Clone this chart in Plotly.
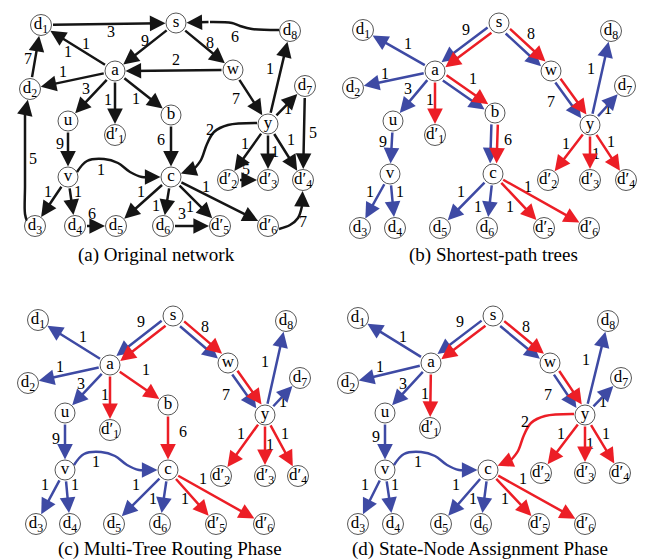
import numpy as np
import plotly.graph_objects as go

FONT = "Liberation Serif, Times New Roman, serif"
BLACK = "#151515"
BLUE = "#3E4AA4"
RED = "#EC1E26"

NODE_TEXT = {
    's': 's', 'a': 'a', 'b': 'b', 'c': 'c', 'u': 'u', 'v': 'v', 'w': 'w', 'y': 'y',
    'd1': 'd<sub>1</sub>', 'd2': 'd<sub>2</sub>', 'd3': 'd<sub>3</sub>', 'd4': 'd<sub>4</sub>',
    'd5': 'd<sub>5</sub>', 'd6': 'd<sub>6</sub>', 'd7': 'd<sub>7</sub>', 'd8': 'd<sub>8</sub>',
    'd1p': 'd′<sub>1</sub>', 'd2p': 'd′<sub>2</sub>', 'd3p': 'd′<sub>3</sub>',
    'd4p': 'd′<sub>4</sub>', 'd5p': 'd′<sub>5</sub>', 'd6p': 'd′<sub>6</sub>',
}

# ---------------- node layouts (pixel positions) ----------------
POS_A = {'d1': (33, 17), 's': (168, 15), 'd8': (282, 23), 'a': (107, 63), 'w': (225, 62),
         'd2': (22, 81), 'd7': (297, 78), 'u': (60, 113), 'b': (163, 107), 'd1p': (107, 127),
         'y': (260, 116), 'v': (60, 169), 'c': (163, 169), 'd2p': (220, 172), 'd3p': (260, 172),
         'd4p': (295, 172), 'd3': (27, 218), 'd4': (67, 218), 'd5': (108, 218), 'd6': (155, 218),
         'd5p': (212, 218), 'd6p': (260, 218)}
POS_B = {'d1': (355, 22), 's': (491, 15), 'd8': (603, 23), 'a': (427, 63), 'w': (543, 63),
         'd2': (345, 80), 'd7': (617, 78), 'u': (385, 113), 'b': (487, 105), 'd1p': (427, 127),
         'y': (582, 117), 'v': (382, 166), 'c': (485, 166), 'd2p': (540, 172), 'd3p': (582, 172),
         'd4p': (618, 172), 'd3': (352, 220), 'd4': (387, 220), 'd5': (432, 220), 'd6': (479, 220),
         'd5p': (536, 220), 'd6p': (581, 220)}
POS_C = {'d1': (30, 312), 's': (165, 308), 'd8': (278, 313), 'a': (102, 357), 'w': (220, 355),
         'd2': (20, 375), 'd7': (292, 370), 'u': (57, 405), 'b': (160, 397), 'd1p': (102, 422),
         'y': (257, 407), 'v': (57, 462), 'c': (160, 462), 'd2p': (213, 468), 'd3p': (257, 468),
         'd4p': (290, 468), 'd3': (28, 516), 'd4': (62, 516), 'd5': (106, 516), 'd6': (152, 516),
         'd5p': (208, 516), 'd6p': (256, 516)}
POS_D = {'d1': (350, 310), 's': (485, 308), 'd8': (600, 313), 'a': (423, 355), 'w': (542, 355),
         'd2': (340, 375), 'd7': (613, 370), 'u': (377, 405), 'd1p': (422, 420),
         'y': (577, 407), 'v': (377, 462), 'c': (480, 462), 'd2p': (533, 465), 'd3p': (577, 465),
         'd4p': (612, 465), 'd3': (350, 516), 'd4': (385, 516), 'd5': (433, 516), 'd6': (473, 516),
         'd5p': (531, 516), 'd6p': (577, 516)}

# ---------------- edges: (source, target, weight) ----------------
EDGES_A = [('d1', 's', 3), ('s', 'a', 9), ('s', 'w', 8), ('w', 'a', 2), ('a', 'd1', 1),
           ('a', 'd2', 1), ('d2', 'd1', 7), ('a', 'u', 3), ('a', 'd1p', 1), ('a', 'b', 1),
           ('w', 'y', 7), ('y', 'd8', 1), ('y', 'd7', 1), ('d7', 'd4p', 5), ('u', 'v', 9),
           ('b', 'c', 6), ('v', 'd3', 1), ('v', 'd4', 1), ('d4', 'd5', 6), ('c', 'd5', 1),
           ('c', 'd6', 1), ('c', 'd5p', 1), ('c', 'd6p', 1), ('d6', 'd5p', 3), ('y', 'd2p', 1),
           ('y', 'd3p', 1), ('y', 'd4p', 1), ('d2p', 'd3p', 5)]
CURVES_A = [('d8', 's', 6), ('d3', 'd2', 5), ('v', 'c', 1), ('y', 'c', 2), ('d6p', 'd4p', 7)]

BLUE_B = [('s', 'a', 9), ('s', 'w', 8), ('a', 'd1', 1), ('a', 'd2', 1), ('a', 'u', 3),
          ('a', 'b', 1), ('b', 'c', 6), ('w', 'y', 7), ('y', 'd8', 1), ('y', 'd7', 1),
          ('u', 'v', 9), ('v', 'd3', 1), ('v', 'd4', 1), ('c', 'd5', 1), ('c', 'd6', 1)]
RED_B = [('s', 'a', None), ('s', 'w', None), ('a', 'd1p', 1), ('a', 'b', None), ('b', 'c', None),
         ('w', 'y', None), ('y', 'd2p', 1), ('y', 'd3p', 1), ('y', 'd4p', 1), ('c', 'd5p', 1),
         ('c', 'd6p', 1)]

BLUE_C = [('s', 'a', 9), ('s', 'w', 8), ('a', 'd1', 1), ('a', 'd2', 1), ('a', 'u', 3),
          ('w', 'y', 7), ('y', 'd8', 1), ('y', 'd7', 1), ('u', 'v', 9), ('v', 'd3', 1),
          ('v', 'd4', 1), ('c', 'd5', 1), ('c', 'd6', 1)]
RED_C = [('s', 'a', None), ('s', 'w', None), ('a', 'd1p', 1), ('a', 'b', 1), ('b', 'c', 6),
         ('w', 'y', None), ('y', 'd2p', 1), ('y', 'd3p', 1), ('y', 'd4p', 1), ('c', 'd5p', 1),
         ('c', 'd6p', 1)]
BLUE_CURVES_C = [('v', 'c', 1)]
RED_CURVES_C = []

BLUE_D = [('s', 'a', 9), ('s', 'w', 8), ('a', 'd1', 1), ('a', 'd2', 1), ('a', 'u', 3),
          ('w', 'y', 7), ('y', 'd8', 1), ('y', 'd7', 1), ('u', 'v', 9), ('v', 'd3', 1),
          ('v', 'd4', 1), ('c', 'd5', 1), ('c', 'd6', 1)]
RED_D = [('s', 'a', None), ('s', 'w', None), ('a', 'd1p', 1), ('w', 'y', None),
         ('y', 'd2p', 1), ('y', 'd3p', 1), ('y', 'd4p', 1), ('c', 'd5p', 1), ('c', 'd6p', 1)]
BLUE_CURVES_D = [('v', 'c', 1)]
RED_CURVES_D = [('y', 'c', 2)]

CAPTIONS = ["(a) Original network", "(b) Shortest-path trees",
            "(c) Multi-Tree Routing Phase", "(d) State-Node Assignment Phase"]

# ---------------- styling / geometry helpers ----------------
CURVE_SHAPES = {  # waypoints as offsets from the source node
    ('d8', 's'): [(-11, -1), (-38, -2), (-50, -5), (-58, -8), (-80, -9)],
    ('d3', 'd2'): [(-8, -5), (-10, -12), (-10, -40), (-10, -90), (-10, -112)],
    ('v', 'c'): [(9, -5), (19, -16), (36, -18), (50, -14), (62, -5), (74, 0), (84, 0)],
    ('y', 'c'): [(-11, -1), (-40, 1), (-54, 8), (-61, 20), (-67, 36), (-74, 45)],
    ('d6p', 'd4p'): [(11, 3), (22, -1), (30, -8), (34, -20)],
}

LBL_A = {('d1', 's'): (103, 25), ('s', 'a'): (137, 34), ('s', 'w'): (202, 36), ('w', 'a'): (168, 53),
         ('a', 'd1'): (60, 45), ('a', 'd2'): (55, 65), ('d2', 'd1'): (20, 52), ('a', 'u'): (78, 82),
         ('a', 'd1p'): (100, 93), ('a', 'b'): (128, 92), ('w', 'y'): (228, 92), ('y', 'd8'): (262, 62),
         ('y', 'd7'): (280, 102), ('d7', 'd4p'): (305, 126), ('u', 'v'): (52, 137), ('b', 'c'): (153, 133),
         ('d3', 'd2'): (25, 152), ('v', 'c'): (93, 163), ('v', 'd3'): (40, 185), ('v', 'd4'): (70, 185),
         ('c', 'd5'): (133, 185), ('c', 'd6'): (148, 199), ('d4', 'd5'): (84, 207),
         ('d6', 'd5p'): (174, 207), ('c', 'd5p'): (182, 200), ('c', 'd6p'): (198, 180),
         ('y', 'c'): (202, 123), ('y', 'd2p'): (237, 137), ('y', 'd3p'): (267, 145),
         ('y', 'd4p'): (283, 133), ('d2p', 'd3p'): (238, 163), ('d6p', 'd4p'): (295, 215),
         ('d8', 's'): (227, 30)}
EXTRA_A = [((78, 37), 1)]
LBL_B = {('s', 'a'): (458, 23), ('s', 'w'): (523, 27), ('a', 'd1'): (400, 37), ('a', 'd2'): (377, 67),
         ('a', 'u'): (400, 82), ('a', 'd1p'): (422, 93), ('a', 'b'): (465, 72), ('w', 'y'): (543, 95),
         ('y', 'd8'): (583, 62), ('y', 'd7'): (600, 102), ('u', 'v'): (375, 135), ('b', 'c'): (500, 133),
         ('y', 'd2p'): (558, 137), ('y', 'd3p'): (588, 147), ('y', 'd4p'): (603, 135),
         ('v', 'd3'): (362, 185), ('v', 'd4'): (392, 185), ('c', 'd5'): (453, 185),
         ('c', 'd6'): (470, 200), ('c', 'd5p'): (502, 200), ('c', 'd6p'): (520, 180)}
LBL_C = {('s', 'a'): (133, 315), ('s', 'w'): (197, 320), ('a', 'd1'): (75, 330), ('a', 'd2'): (52, 360),
         ('a', 'u'): (73, 377), ('a', 'd1p'): (97, 388), ('a', 'b'): (138, 363), ('b', 'c'): (175, 425),
         ('w', 'y'): (218, 388), ('y', 'd8'): (257, 355), ('y', 'd7'): (275, 395), ('u', 'v'): (48, 432),
         ('v', 'c'): (88, 455), ('y', 'd2p'): (233, 427), ('y', 'd3p'): (262, 438),
         ('y', 'd4p'): (277, 427), ('v', 'd3'): (37, 478), ('v', 'd4'): (67, 478),
         ('c', 'd5'): (128, 478), ('c', 'd6'): (145, 492), ('c', 'd5p'): (177, 492),
         ('c', 'd6p'): (195, 472)}
LBL_D = {('s', 'a'): (452, 315), ('s', 'w'): (518, 320), ('a', 'd1'): (395, 330), ('a', 'd2'): (372, 360),
         ('a', 'u'): (395, 377), ('a', 'd1p'): (417, 387), ('w', 'y'): (540, 388), ('y', 'd8'): (578, 353),
         ('y', 'd7'): (595, 395), ('y', 'c'): (517, 415), ('u', 'v'): (368, 430), ('v', 'c'): (410, 455),
         ('y', 'd2p'): (553, 427), ('y', 'd3p'): (582, 437), ('y', 'd4p'): (598, 427),
         ('v', 'd3'): (357, 478), ('v', 'd4'): (387, 478), ('c', 'd5'): (448, 478),
         ('c', 'd6'): (465, 492), ('c', 'd5p'): (497, 492), ('c', 'd6p'): (515, 472)}
CAPTION_XY = [(148, 247), (485, 247), (162, 541), (472, 541)]

LW = 2.5
PAIR_OFF = 3.2

fig = go.Figure()
annotations = []


def radius(n):
    return 10.5 if n.startswith('d') else 10.0


def arrow(p, q, color, rs, rq):
    annotations.append(dict(x=q[0], y=q[1], ax=p[0], ay=p[1], xref='x', yref='y',
                            axref='x', ayref='y', showarrow=True, arrowhead=2, arrowsize=1.25,
                            arrowwidth=LW, arrowcolor=color, standoff=rq, startstandoff=rs,
                            text=''))


def straight(pos, src, dst, color, off=0.0):
    p = np.array(pos[src], float)
    q = np.array(pos[dst], float)
    d = q - p
    n = np.array([-d[1], d[0]]) / np.hypot(*d)
    p2, q2 = p + off * n, q + off * n
    arrow(tuple(p2), tuple(q2), color, radius(src), radius(dst) + 0.5)


def curve(pos, src, dst, color):
    sx, sy = pos[src]
    pts = [(sx + dx, sy + dy) for dx, dy in CURVE_SHAPES[(src, dst)]]
    fig.add_trace(go.Scatter(x=[p[0] for p in pts], y=[p[1] for p in pts], mode='lines',
                             line=dict(color=color, width=LW, shape='spline', smoothing=1.0),
                             hoverinfo='skip', showlegend=False))
    arrow(pts[-1], pos[dst], color, 0, radius(dst) + 0.5)


def nodes(pos):
    names = list(pos.keys())
    fig.add_trace(go.Scatter(
        x=[pos[n][0] for n in names], y=[pos[n][1] for n in names],
        mode='markers+text', text=[NODE_TEXT[n] for n in names], textposition='middle center',
        textfont=dict(family=FONT, size=17, color='black'),
        marker=dict(size=[2 * radius(n) for n in names], color='white',
                    line=dict(color='#111', width=1)),
        hoverinfo='skip', showlegend=False))


def labels(lbl, weights, extra=()):
    xs, ys, ts = [], [], []
    for key, w in weights.items():
        if w is None or key not in lbl:
            continue
        xs.append(lbl[key][0]); ys.append(lbl[key][1]); ts.append(str(w))
    for (x, y), w in extra:
        xs.append(x); ys.append(y); ts.append(str(w))
    fig.add_trace(go.Scatter(x=xs, y=ys, mode='text', text=ts, textposition='middle center',
                             textfont=dict(family=FONT, size=16, color='black'),
                             hoverinfo='skip', showlegend=False))


# ----- panel (a)
for s_, d_, w_ in EDGES_A:
    straight(POS_A, s_, d_, BLACK)
for s_, d_, w_ in CURVES_A:
    curve(POS_A, s_, d_, BLACK)
labels(LBL_A, {(s_, d_): w_ for s_, d_, w_ in EDGES_A + CURVES_A}, EXTRA_A)
nodes(POS_A)


def colored_panel(pos, blue, red, bcurves, rcurves, lbl):
    bkeys = {(s_, d_) for s_, d_, _ in blue}
    rkeys = {(s_, d_) for s_, d_, _ in red}
    shared = bkeys & rkeys
    for s_, d_, _ in blue:
        straight(pos, s_, d_, BLUE, PAIR_OFF if (s_, d_) in shared else 0.0)
    for s_, d_, _ in red:
        straight(pos, s_, d_, RED, -PAIR_OFF if (s_, d_) in shared else 0.0)
    for s_, d_, _ in bcurves:
        curve(pos, s_, d_, BLUE)
    for s_, d_, _ in rcurves:
        curve(pos, s_, d_, RED)
    weights = {}
    for s_, d_, w_ in blue + red + bcurves + rcurves:
        if w_ is not None:
            weights[(s_, d_)] = w_
    labels(lbl, weights)
    nodes(pos)


colored_panel(POS_B, BLUE_B, RED_B, [], [], LBL_B)
colored_panel(POS_C, BLUE_C, RED_C, BLUE_CURVES_C, RED_CURVES_C, LBL_C)
colored_panel(POS_D, BLUE_D, RED_D, BLUE_CURVES_D, RED_CURVES_D, LBL_D)

for (cx, cy), cap in zip(CAPTION_XY, CAPTIONS):
    annotations.append(dict(x=cx, y=cy, xref='x', yref='y', text=cap, showarrow=False,
                            font=dict(family=FONT, size=19, color='black')))

fig.update_layout(
    width=650, height=559, margin=dict(l=0, r=0, t=0, b=0),
    paper_bgcolor='white', plot_bgcolor='white',
    xaxis=dict(range=[0, 650], visible=False, fixedrange=True),
    yaxis=dict(range=[559, 0], visible=False, fixedrange=True),
    annotations=annotations, showlegend=False,
)
fig.write_html("out.html")
